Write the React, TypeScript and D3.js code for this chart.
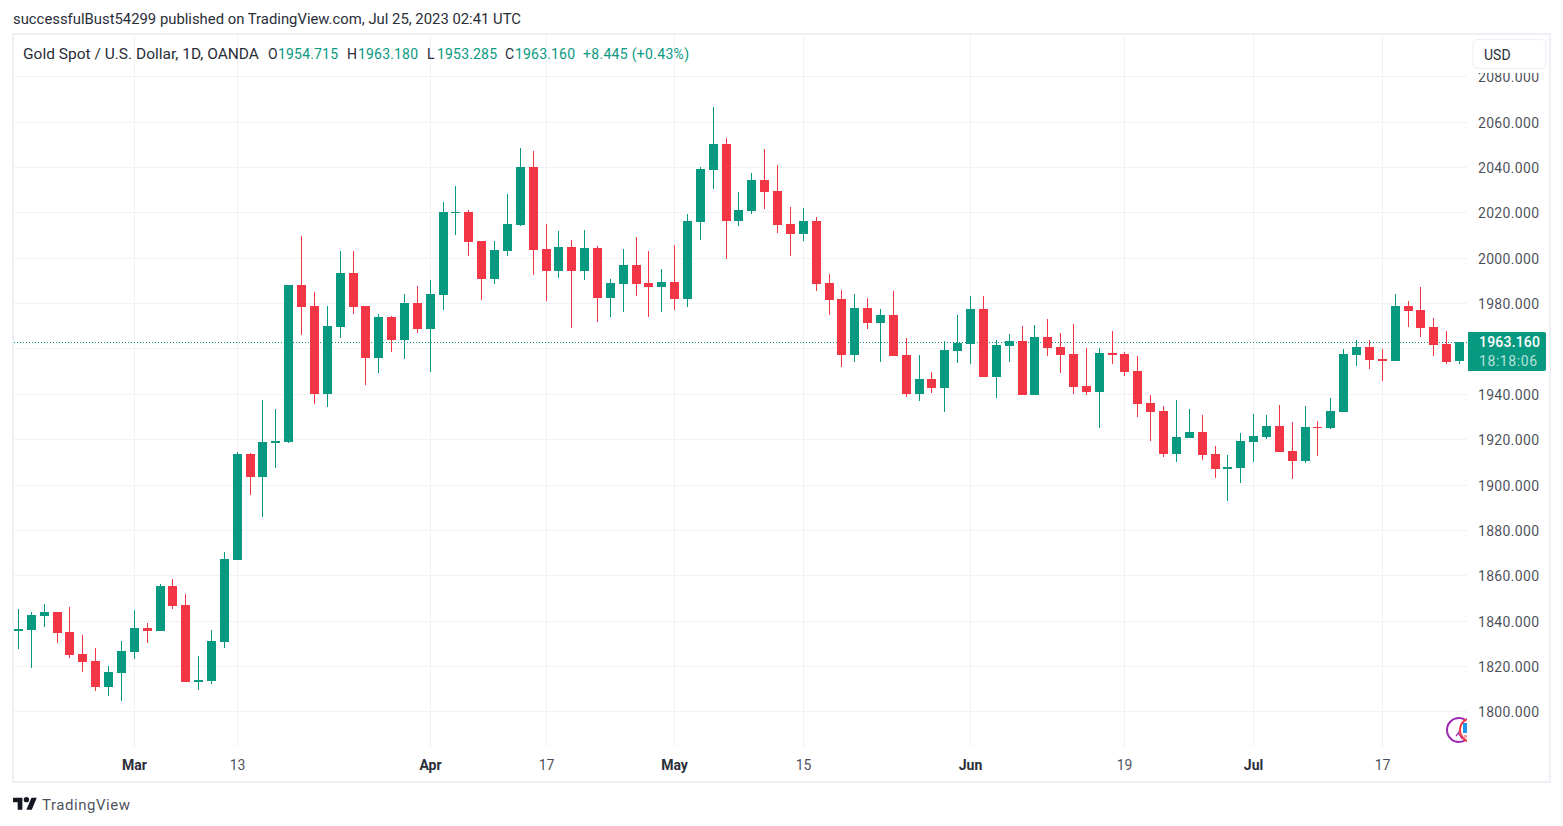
import React from "react";
import * as d3 from "d3";

const opens = [1835.6,1836.0,1842.2,1844.0,1835.2,1825.4,1822.4,1810.9,1817.1,1826.3,1836.9,1835.6,1855.4,1847.1,1813.1,1813.5,1830.7,1866.9,1913.7,1903.5,1918.6,1919.0,1988.2,1979.0,1940.1,1969.7,1993.5,1979.0,1956.0,1974.1,1964.0,1980.3,1968.8,1983.8,2020.0,2020.4,2007.6,1990.9,2003.2,2014.7,2040.3,2004.1,1994.4,2005.0,1994.4,2004.5,1982.5,1988.7,1997.0,1989.1,1987.3,1989.5,1982.0,2016.0,2039.0,2050.4,2016.5,2020.9,2034.5,2029.7,2015.1,2010.7,2016.5,1989.1,1982.0,1957.3,1978.1,1971.5,1975.0,1957.3,1940.1,1946.8,1942.8,1959.1,1962.2,1977.6,1947.6,1961.3,1963.5,1939.7,1965.3,1960.9,1957.8,1943.7,1941.0,1958.2,1957.8,1950.3,1936.2,1932.6,1913.7,1920.7,1923.4,1913.7,1907.0,1907.5,1919.0,1921.2,1925.9,1915.0,1910.6,1925.5,1925.1,1932.2,1957.3,1960.9,1955.6,1954.7,1979.0,1977.2,1969.7,1962.2,1954.715];
const highs = [1845.3,1844.0,1847.5,1844.0,1846.2,1833.8,1828.1,1820.2,1831.2,1844.9,1839.1,1856.3,1858.5,1851.9,1824.6,1836.0,1870.4,1914.6,1914.2,1937.5,1933.5,1988.2,2009.8,1985.1,1979.0,2003.2,2003.2,1979.0,1975.4,1974.5,1984.2,1987.8,1990.4,2024.8,2031.9,2021.3,2007.6,2007.6,2028.4,2048.7,2047.3,2015.1,2012.0,2008.1,2012.5,2005.4,1990.9,2004.1,2009.4,2003.2,1995.3,2005.9,2019.5,2040.3,2066.7,2053.1,2029.2,2037.6,2048.2,2041.2,2022.6,2022.2,2018.2,1993.1,1986.0,1984.2,1982.5,1977.6,1985.6,1964.8,1957.3,1949.8,1963.5,1975.0,1983.4,1983.4,1964.0,1966.6,1970.1,1970.6,1973.2,1967.1,1971.0,1960.4,1960.4,1967.9,1958.7,1956.9,1939.7,1934.8,1937.5,1933.5,1930.9,1917.2,1913.2,1922.9,1931.3,1930.9,1935.3,1927.8,1934.8,1928.2,1938.4,1960.0,1964.0,1964.0,1960.0,1984.2,1981.2,1987.3,1973.7,1967.9,1963.18];
const lows = [1827.7,1819.3,1837.4,1830.3,1823.7,1817.5,1809.1,1806.9,1804.7,1823.2,1830.3,1835.6,1845.3,1813.1,1809.6,1812.2,1828.1,1866.9,1895.6,1885.9,1907.5,1918.6,1966.2,1935.7,1934.4,1964.8,1975.4,1944.1,1949.4,1958.7,1955.6,1967.1,1949.8,1977.2,2010.3,2001.0,1981.6,1988.7,2001.0,2014.2,1992.6,1981.2,1991.3,1969.3,1990.4,1971.9,1974.1,1976.3,1983.4,1974.1,1976.3,1977.2,1978.5,2008.1,2030.6,1999.7,2014.2,2019.5,2021.8,2011.2,2001.0,2007.6,1985.6,1975.0,1952.0,1954.3,1968.8,1954.3,1956.9,1938.8,1937.0,1940.6,1932.2,1953.8,1953.4,1947.6,1938.4,1954.3,1939.7,1939.7,1956.9,1949.4,1940.1,1939.7,1925.1,1953.4,1948.1,1930.0,1919.4,1912.4,1910.1,1920.7,1911.0,1903.1,1892.9,1900.9,1910.1,1920.3,1914.6,1902.6,1909.7,1912.8,1924.6,1932.2,1952.5,1951.2,1945.9,1954.7,1969.7,1965.3,1956.9,1953.4,1953.285];
const closes = [1836.5,1842.7,1844.0,1834.7,1825.0,1821.9,1810.9,1817.5,1826.8,1836.9,1835.6,1855.4,1846.6,1813.1,1814.0,1831.2,1867.4,1913.7,1903.5,1919.0,1919.4,1988.2,1978.5,1940.1,1970.1,1993.5,1978.5,1956.0,1974.1,1964.0,1980.3,1968.8,1984.2,2020.4,2020.4,2007.2,1990.9,2003.7,2015.1,2040.3,2003.7,1994.4,2005.0,1994.4,2004.5,1982.5,1989.1,1997.0,1988.7,1987.3,1989.5,1982.0,2016.5,2039.4,2050.4,2016.5,2021.3,2034.5,2029.2,2014.7,2010.7,2016.5,1988.7,1981.6,1957.3,1978.1,1971.5,1975.0,1956.9,1940.1,1946.8,1942.8,1959.5,1962.6,1977.6,1947.6,1961.8,1963.5,1939.7,1965.3,1960.4,1957.3,1943.2,1941.0,1958.2,1957.3,1949.8,1935.7,1932.2,1913.7,1921.2,1923.4,1913.2,1907.0,1907.9,1919.4,1921.6,1925.9,1914.6,1910.6,1925.5,1925.1,1932.6,1957.8,1960.9,1955.1,1954.7,1979.0,1976.8,1969.3,1961.8,1954.3,1963.16];

const priceTicks = [1800,1820,1840,1860,1880,1900,1920,1940,1980,2000,2020,2040,2060,2080];
const gridPrices = [1800,1820,1840,1860,1880,1900,1920,1940,1960,1980,2000,2020,2040,2060,2080];
const timeTickIndex = [9,17,32,41,51,61,74,86,96,106];
const timeTickLabel = ["Mar","13","Apr","17","May","15","Jun","19","Jul","17"];
const lastPrice = 1963.16;
const lastPriceLabel = "1963.160";
const countdown = "18:18:06";
const publishLine = "successfulBust54299 published on TradingView.com, Jul 25, 2023 02:41 UTC";
const symbolLine = "Gold Spot / U.S. Dollar, 1D, OANDA";
const ohlcLabels = ["O","H","L","C"];
const ohlcValues = ["1954.715","1963.180","1953.285","1963.160"];
const changeText = "+8.445 (+0.43%)";

const GREEN = "#089981";
const RED = "#F23645";
const GRID = "#F2F2F5";
const FRAME = "#EFEFF5";
const TEXT = "#2A2E39";
const FONT = "Roboto, sans-serif";

export default function App() {
  const x = d3.scaleLinear().domain([0, 112]).range([18.5, 18.5 + 112 * 12.866]);
  const y = d3.scaleLinear().domain([1800, 2060]).range([711.7, 122.3]);
  const px = (i: number) => Math.floor(x(i)) + 0.5;
  const py = (v: number) => Math.round(y(v));
  const ohlcX = [268, 347, 427, 505];
  const ohlcValueX = [278, 358, 437, 515];
  return (
    <svg width={1563} height={826} style={{ position: "absolute", left: 0, top: 0, background: "#fff", display: "block" }} fontFamily={FONT}>
      <defs>
        <clipPath id="pane"><rect x={14} y={35} width={1453} height={746} /></clipPath>
        <clipPath id="axisclip"><rect x={1467} y={73} width={82} height={708} /></clipPath>
      </defs>
      <rect x={0} y={0} width={1563} height={826} fill="#fff" />
      <text x={13} y={24} fontSize={14} fill={TEXT} textLength={508} lengthAdjust="spacingAndGlyphs">{publishLine}</text>
      {/* grid */}
      {timeTickIndex.map((t) => (
        <line key={t} x1={px(t)} x2={px(t)} y1={35} y2={747} stroke={GRID} />
      ))}
      {gridPrices.map((p) => (
        <line key={p} x1={14} x2={1467} y1={Math.floor(y(p)) + 0.5} y2={Math.floor(y(p)) + 0.5} stroke={GRID} />
      ))}
      {/* last price line */}
      <line x1={14} x2={1467} y1={py(lastPrice) + 0.5} y2={py(lastPrice) + 0.5} stroke={GREEN} strokeDasharray="1 2" />
      {/* candles */}
      <g clipPath="url(#pane)">
        {opens.map((o, i) => {
          const c = closes[i];
          const col = c >= o ? GREEN : RED;
          const top = py(Math.max(o, c));
          const bottom = py(Math.min(o, c));
          const cx = px(i);
          return (
            <g key={i}>
              <rect x={cx - 0.5} y={py(highs[i])} width={1} height={Math.max(1, py(lows[i]) - py(highs[i]))} fill={col} />
              <rect x={cx - 4.5} y={top} width={9} height={Math.max(1, bottom - top)} fill={col} />
            </g>
          );
        })}
      </g>
      {/* event badge */}
      <g clipPath="url(#pane)">
        <circle cx={1459} cy={730} r={12} fill="#fff" stroke="#9C27B0" strokeWidth={2} />
        <path d="M1462 725 L1458.5 733 L1456 736 M1458.5 733 L1462 739" fill="none" stroke="#9C27B0" strokeWidth={1.2} />
        <circle cx={1472} cy={730} r={12} fill="#fff" stroke={RED} strokeWidth={2} />
        <rect x={1463} y={723} width={5} height={10} fill="#2196F3" />
        <rect x={1464} y={735} width={4} height={3} fill="#F7A1A8" />
      </g>
      {/* price axis */}
      <g clipPath="url(#axisclip)">
        {priceTicks.map((p) => (
          <text key={p} x={1539} y={y(p) + 5.5} fontSize={14} textAnchor="end" fill={TEXT} fillOpacity={0.85} textLength={61} lengthAdjust="spacing">{d3.format(".3f")(p)}</text>
        ))}
      </g>
      <path d="M1468 332 H1544 A2 2 0 0 1 1546 334 V369 A2 2 0 0 1 1544 371 H1468 Z" fill={GREEN} />
      <text x={1479} y={347} fontSize={14} fill="#fff" fontWeight={500} textLength={61}>{lastPriceLabel}</text>
      <text x={1479} y={366} fontSize={14} fill="#fff" fillOpacity={0.72} textLength={58}>{countdown}</text>
      {/* time axis */}
      {timeTickIndex.map((t, i) => {
        const major = isNaN(+timeTickLabel[i]);
        return (
          <text key={t} x={px(t)} y={770} fontSize={14} textAnchor="middle" fill={TEXT} fillOpacity={major ? 1 : 0.85} fontWeight={major ? 700 : 400}>{timeTickLabel[i]}</text>
        );
      })}
      {/* header */}
      <text x={23} y={59} fontSize={14} fill={TEXT} textLength={236} lengthAdjust="spacingAndGlyphs">{symbolLine}</text>
      {ohlcLabels.map((l, i) => (
        <text key={l} x={ohlcX[i]} y={59} fontSize={14} fill={TEXT}>{l}</text>
      ))}
      {ohlcValues.map((v, i) => (
        <text key={i} x={ohlcValueX[i]} y={59} fontSize={14} fill={GREEN} textLength={60}>{v}</text>
      ))}
      <text x={583} y={59} fontSize={14} fill={GREEN} textLength={106}>{changeText}</text>
      {/* USD button */}
      <rect x={1473} y={39.5} width={73} height={29} rx={5} fill="#fff" stroke={FRAME} />
      <text x={1484} y={60} fontSize={14} fill={TEXT}>USD</text>
      {/* frame */}
      <rect x={13} y={34} width={1537} height={748} fill="none" stroke={FRAME} strokeWidth={2} />
      {/* footer logo */}
      <g transform="translate(13 795) scale(0.67)" fill="#131722">
        <path d="M14 22H7V11H0V4h14v18zM28 22h-8l7.5-18h8L28 22z" />
        <circle cx={20} cy={7} r={4} />
      </g>
      <text x={42} y={810} fontSize={15} fill={TEXT} fillOpacity={0.85} textLength={88}>TradingView</text>
    </svg>
  );
}
